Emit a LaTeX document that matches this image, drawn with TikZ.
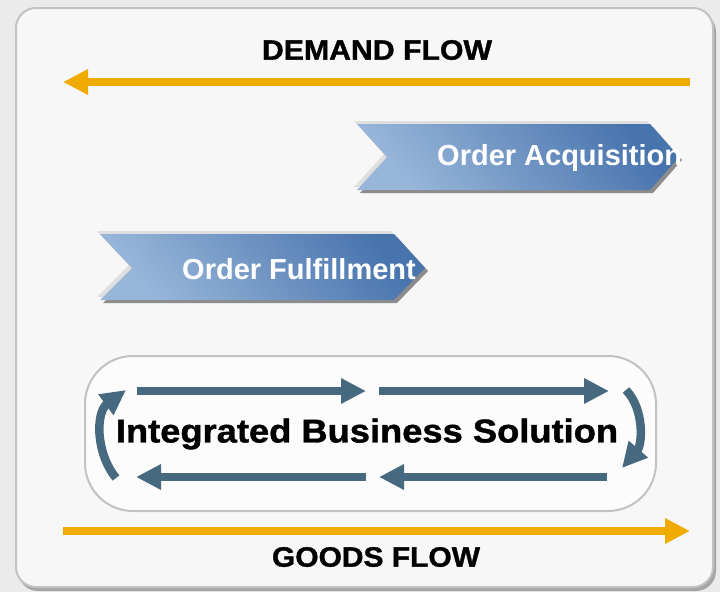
\documentclass[tikz,border=0pt]{standalone}
\usepackage{fontspec}
\setmainfont{Liberation Sans}
\newfontfamily\heavyfont{Liberation Sans}[BoldFeatures={FakeBold=1.2}]
\usetikzlibrary{arrows.meta,shadings}
\definecolor{bgout}{HTML}{EBEBEB}
\definecolor{panel}{HTML}{F7F7F7}
\definecolor{panelline}{HTML}{C2C2C2}
\definecolor{flow}{HTML}{F0AB00}
\definecolor{loopc}{HTML}{46697F}
\definecolor{blueL}{HTML}{98B6DA}
\definecolor{blueD}{HTML}{4874AD}
\tikzset{
  flowarrow/.style={draw=flow, line width=8pt, -{Triangle[length=25pt,width=24pt]}},
  looparrow/.style={draw=loopc, line width=8.5pt, -{Triangle[length=25pt,width=24pt]}},
  title/.style={font=\heavyfont\bfseries\fontsize{28}{30}\selectfont, text=black, inner sep=0pt},
  chevtext/.style={font=\bfseries\fontsize{29}{31}\selectfont, text=white, inner sep=0pt},
}
\begin{document}
\begin{tikzpicture}[x=1pt,y=-1pt]
\useasboundingbox (0,0) rectangle (720,592);
\fill[bgout] (0,0) rectangle (720,592);
% outer panel with shadow
\fill[gray!70, rounded corners=20pt] (18,12) rectangle (716,591);
\filldraw[fill=panel, draw=panelline, line width=2pt, rounded corners=20pt] (16,8) rectangle (713,587);
% demand flow
\node[title] (demand) at (377,50) {\scalebox{1.08}[1]{DEMAND FLOW}};
\coordinate (dstart) at (690,82);
\coordinate (dend) at (63,82);
\draw[flowarrow] (dstart) -- (dend);
% Order Acquisition chevron
\fill[gray!25] (354,121) -- (647,121) -- (676,154) -- (647,187) -- (354,187) -- (384,154) -- cycle;
\fill[gray!90] (360,127) -- (653,127) -- (682,160) -- (653,193) -- (360,193) -- (390,160) -- cycle;
\path[left color=blueL, right color=blueD, shading angle=130]
  (357,124) -- (650,124) -- (679,157) -- (650,190) -- (357,190) -- (387,157) -- cycle;
\node[chevtext, anchor=west] (acq) at (437,158) {Order Acquisition};
% Order Fulfillment chevron
\fill[gray!25] (97,231) -- (391,231) -- (422,265) -- (391,297) -- (97,297) -- (129,265) -- cycle;
\fill[gray!90] (103,237) -- (397,237) -- (428,271) -- (397,303) -- (103,303) -- (135,271) -- cycle;
\path[left color=blueL, right color=blueD, shading angle=130]
  (100,234) -- (394,234) -- (425,268) -- (394,300) -- (100,300) -- (132,268) -- cycle;
\node[chevtext, anchor=west] (ful) at (182,269) {Order Fulfillment};
% Integrated Business Solution box
\filldraw[fill=white!60!panel, draw=panelline, line width=2pt, rounded corners=48pt] (85,356) rectangle (656,511);
\node[title, font=\heavyfont\bfseries\fontsize{33}{36}\selectfont] (ibs) at (367,434) {\scalebox{1.1}[1]{Integrated Business Solution}};
\coordinate (t1a) at (137,391); \coordinate (t1b) at (366,391);
\coordinate (t2a) at (379,391); \coordinate (t2b) at (609,391);
\coordinate (b1a) at (607,477); \coordinate (b1b) at (379,477);
\coordinate (b2a) at (366,477); \coordinate (b2b) at (136,477);
\coordinate (la) at (116,478); \coordinate (lb) at (126,390);
\coordinate (ra) at (626,390); \coordinate (rb) at (622,468);
\draw[looparrow] (t1a) -- (t1b);
\draw[looparrow] (t2a) -- (t2b);
\draw[looparrow] (b1a) -- (b1b);
\draw[looparrow] (b2a) -- (b2b);
\draw[looparrow] (la) .. controls (95,452) and (96,412) .. (lb);
\draw[looparrow] (ra) .. controls (645,410) and (642,445) .. (rb);
% goods flow
\coordinate (gstart) at (63,531);
\coordinate (gend) at (690,531);
\draw[flowarrow] (gstart) -- (gend);
\node[title] (goods) at (376,557) {\scalebox{1.07}[1]{GOODS FLOW}};
\end{tikzpicture}
\end{document}
